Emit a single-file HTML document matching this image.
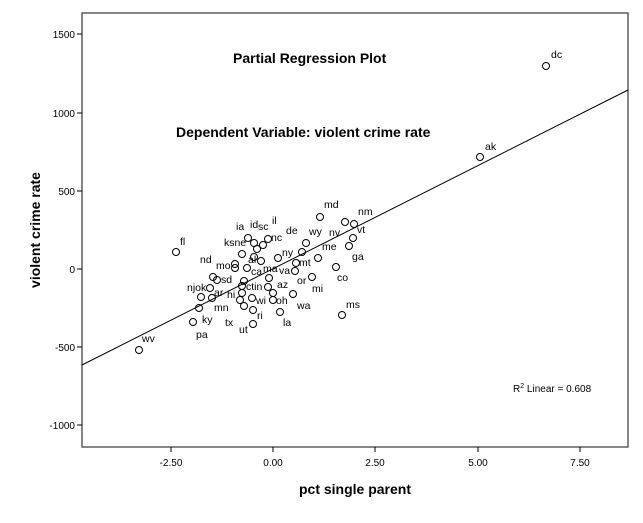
<!DOCTYPE html>
<html><head><style>
html,body{margin:0;padding:0;background:#fff;}
svg text{font-family:"Liberation Sans",Arial,sans-serif;}
.t{font-size:10px;fill:#000}
.l{font-size:10.5px;fill:#000}
.b{font-size:14px;font-weight:bold;fill:#000}
circle{fill:none;stroke:#000;stroke-width:1}
</style></head><body>
<svg width="643" height="518" viewBox="0 0 643 518" xmlns="http://www.w3.org/2000/svg">
<rect x="0" y="0" width="643" height="518" fill="#fff"/>
<rect x="82" y="13" width="546" height="434" fill="none" stroke="#444" stroke-width="1.3"/>
<!-- y ticks -->
<g stroke="#000" stroke-width="1">
<line x1="77" y1="34" x2="82" y2="34"/><line x1="77" y1="113" x2="82" y2="113"/>
<line x1="77" y1="191" x2="82" y2="191"/><line x1="77" y1="269" x2="82" y2="269"/>
<line x1="77" y1="347" x2="82" y2="347"/><line x1="77" y1="425" x2="82" y2="425"/>
<line x1="171" y1="447" x2="171" y2="452"/><line x1="273" y1="447" x2="273" y2="452"/>
<line x1="375" y1="447" x2="375" y2="452"/><line x1="478" y1="447" x2="478" y2="452"/>
<line x1="580" y1="447" x2="580" y2="452"/>
</g>
<g class="t" text-anchor="end">
<text x="75" y="38">1500</text><text x="75" y="117">1000</text><text x="75" y="195">500</text>
<text x="75" y="273">0</text><text x="75" y="351">-500</text><text x="75" y="429">-1000</text>
</g>
<g class="t" text-anchor="middle">
<text x="171" y="466">-2.50</text><text x="273" y="466">0.00</text><text x="375" y="466">2.50</text>
<text x="478" y="466">5.00</text><text x="580" y="466">7.50</text>
</g>
<text class="b" x="355" y="494" text-anchor="middle">pct single parent</text>
<text class="b" transform="translate(40,230) rotate(-90)" text-anchor="middle">violent crime rate</text>
<text class="b" x="233" y="63">Partial Regression Plot</text>
<text class="b" x="176" y="137">Dependent Variable: violent crime rate</text>
<text class="t" x="513" y="392">R<tspan font-size="7" dy="-4">2</tspan><tspan dy="4"> Linear = 0.608</tspan></text>
<line x1="82" y1="365" x2="628" y2="90" stroke="#000" stroke-width="1"/>
<g>
<circle cx="546" cy="66" r="3.5"/><circle cx="480" cy="157" r="3.5"/><circle cx="139" cy="350" r="3.5"/>
<circle cx="176" cy="252" r="3.5"/><circle cx="248" cy="238" r="3.5"/><circle cx="254" cy="243" r="3.5"/>
<circle cx="257" cy="249" r="3.5"/><circle cx="263" cy="245" r="3.5"/><circle cx="268" cy="239" r="3.5"/>
<circle cx="242" cy="254" r="3.5"/><circle cx="306" cy="243" r="3.5"/><circle cx="320" cy="217" r="3.5"/>
<circle cx="345" cy="222" r="3.5"/><circle cx="354" cy="224" r="3.5"/><circle cx="353" cy="238" r="3.5"/>
<circle cx="349" cy="246" r="3.5"/><circle cx="302" cy="252" r="3.5"/><circle cx="318" cy="258" r="3.5"/>
<circle cx="278" cy="258" r="3.5"/><circle cx="261" cy="261" r="3.5"/><circle cx="254" cy="257" r="3.5"/>
<circle cx="235" cy="264" r="3.5"/><circle cx="235" cy="268" r="3.5"/><circle cx="247" cy="268" r="3.5"/>
<circle cx="296" cy="263" r="3.5"/><circle cx="295" cy="271" r="3.5"/><circle cx="269" cy="278" r="3.5"/>
<circle cx="336" cy="267" r="3.5"/><circle cx="312" cy="277" r="3.5"/><circle cx="213" cy="277" r="3.5"/>
<circle cx="217" cy="280" r="3.5"/><circle cx="244" cy="281" r="3.5"/><circle cx="242" cy="286" r="3.5"/>
<circle cx="268" cy="287" r="3.5"/><circle cx="273" cy="293" r="3.5"/><circle cx="293" cy="294" r="3.5"/>
<circle cx="210" cy="288" r="3.5"/><circle cx="201" cy="297" r="3.5"/><circle cx="212" cy="298" r="3.5"/>
<circle cx="242" cy="293" r="3.5"/><circle cx="240" cy="300" r="3.5"/><circle cx="252" cy="298" r="3.5"/>
<circle cx="273" cy="300" r="3.5"/><circle cx="244" cy="306" r="3.5"/><circle cx="253" cy="310" r="3.5"/>
<circle cx="199" cy="308" r="3.5"/><circle cx="280" cy="312" r="3.5"/><circle cx="193" cy="322" r="3.5"/>
<circle cx="253" cy="324" r="3.5"/><circle cx="342" cy="315" r="3.5"/>
</g>
<g class="l">
<text x="551" y="58">dc</text><text x="485" y="150">ak</text><text x="142" y="342">wv</text>
<text x="180" y="245">fl</text><text x="236" y="230">ia</text><text x="250" y="228">id</text>
<text x="258" y="230">sc</text><text x="272" y="224">il</text><text x="271" y="241">nc</text>
<text x="286" y="234">de</text><text x="309" y="235">wy</text><text x="324" y="208">md</text>
<text x="358" y="215">nm</text><text x="329" y="236">nv</text><text x="357" y="233">vt</text>
<text x="322" y="250">me</text><text x="352" y="260">ga</text><text x="224" y="246">ksne</text>
<text x="200" y="263">nd</text><text x="248" y="263">al</text><text x="282" y="256">ny</text>
<text x="216" y="269">mo</text><text x="251" y="275">ca</text><text x="263" y="272">ma</text>
<text x="279" y="274">va</text><text x="299" y="266">mt</text><text x="337" y="281">co</text>
<text x="221" y="283">sd</text><text x="297" y="284">or</text><text x="277" y="288">az</text>
<text x="246" y="290">ctin</text><text x="187" y="291">njok</text><text x="312" y="292">mi</text>
<text x="214" y="296">ar</text><text x="227" y="298">hi</text><text x="256" y="304">wi</text>
<text x="276" y="304">oh</text><text x="297" y="309">wa</text><text x="214" y="311">mn</text>
<text x="346" y="308">ms</text><text x="257" y="319">ri</text><text x="225" y="326">tx</text>
<text x="202" y="323">ky</text><text x="239" y="333">ut</text><text x="283" y="326">la</text>
<text x="196" y="338">pa</text>
</g>
</svg>
</body></html>
